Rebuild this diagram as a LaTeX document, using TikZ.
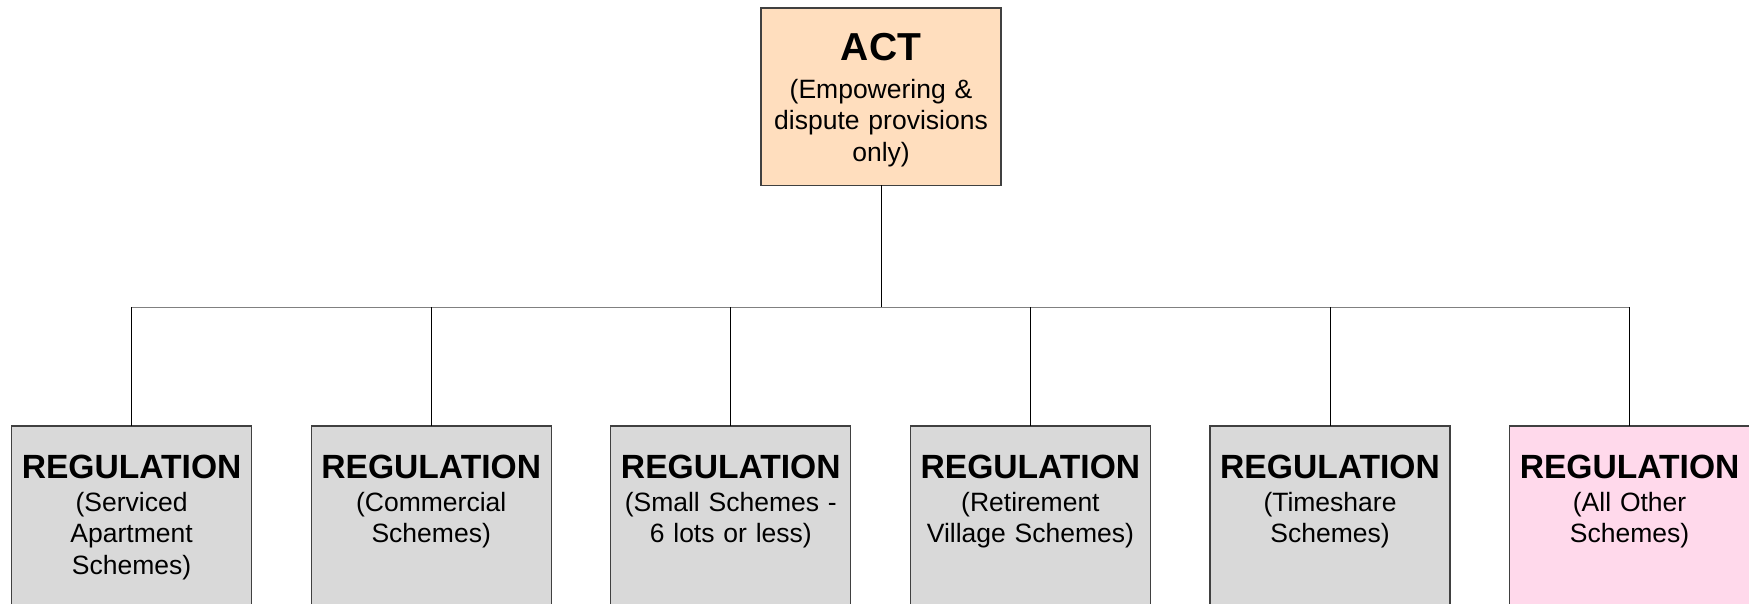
\documentclass[tikz,border=0pt]{standalone}
\usepackage{fontspec}
\setmainfont{Liberation Sans}
\usetikzlibrary{positioning}
\definecolor{actfill}{HTML}{FFDEBE}
\definecolor{regfill}{HTML}{D9D9D9}
\definecolor{othfill}{HTML}{FFD9EB}
\definecolor{boxline}{HTML}{404040}
\definecolor{busgrey}{HTML}{808080}

\begin{document}
\begin{tikzpicture}[x=1pt, y=-1pt, node distance=59.6pt, every node/.style={font=\fontsize{26.5}{31.6}\selectfont}]
\tikzstyle{box}=[rectangle, draw=boxline, line width=1.2pt, anchor=north, outer sep=0pt, inner xsep=4pt, minimum width=240pt, text width=232pt, align=center]
\tikzstyle{actbox}=[box, fill=actfill, inner ysep=25pt, text depth=100pt]
\tikzstyle{regbox}=[box, fill=regfill, inner ysep=28.6pt, text depth=200pt]
\tikzstyle{stem}=[line width=1pt, black]
\tikzstyle{busline}=[line width=1pt, busgrey]
\useasboundingbox (0,0) rectangle (1749,603);
\clip (0,0) rectangle (1749,603);
\node[actbox] (act) at (881,8) {{\bfseries\fontsize{39}{39}\selectfont ACT}\\[6.4pt] (Empowering \&\\ dispute provisions\\ only)};
\node[regbox] (sa) at (131.6,426) {{\bfseries\fontsize{33.6}{33.6}\selectfont REGULATION}\\[1.6pt] (Serviced\\ Apartment\\ Schemes)};
\node[regbox, right=of sa.north east, anchor=north west] (com) {{\bfseries\fontsize{33.6}{33.6}\selectfont REGULATION}\\[1.6pt] (Commercial\\ Schemes)};
\node[regbox, right=of com.north east, anchor=north west] (small) {{\bfseries\fontsize{33.6}{33.6}\selectfont REGULATION}\\[1.6pt] (Small Schemes -\\ 6 lots or less)};
\node[regbox, right=of small.north east, anchor=north west] (ret) {{\bfseries\fontsize{33.6}{33.6}\selectfont REGULATION}\\[1.6pt] (Retirement\\ Village Schemes)};
\node[regbox, right=of ret.north east, anchor=north west] (ts) {{\bfseries\fontsize{33.6}{33.6}\selectfont REGULATION}\\[1.6pt] (Timeshare\\ Schemes)};
\node[regbox, fill=othfill, right=of ts.north east, anchor=north west] (oth) {{\bfseries\fontsize{33.6}{33.6}\selectfont REGULATION}\\[1.6pt] (All Other\\ Schemes)};
\coordinate (hub) at (881,307);
\draw[busline] (sa.north |- hub) -- (oth.north |- hub);
\draw[stem] (act) -- (hub);
\foreach \n in {sa,com,small,ret,ts,oth}
  \draw[stem] (\n.north |- hub) -- (\n);
\end{tikzpicture}
\end{document}
